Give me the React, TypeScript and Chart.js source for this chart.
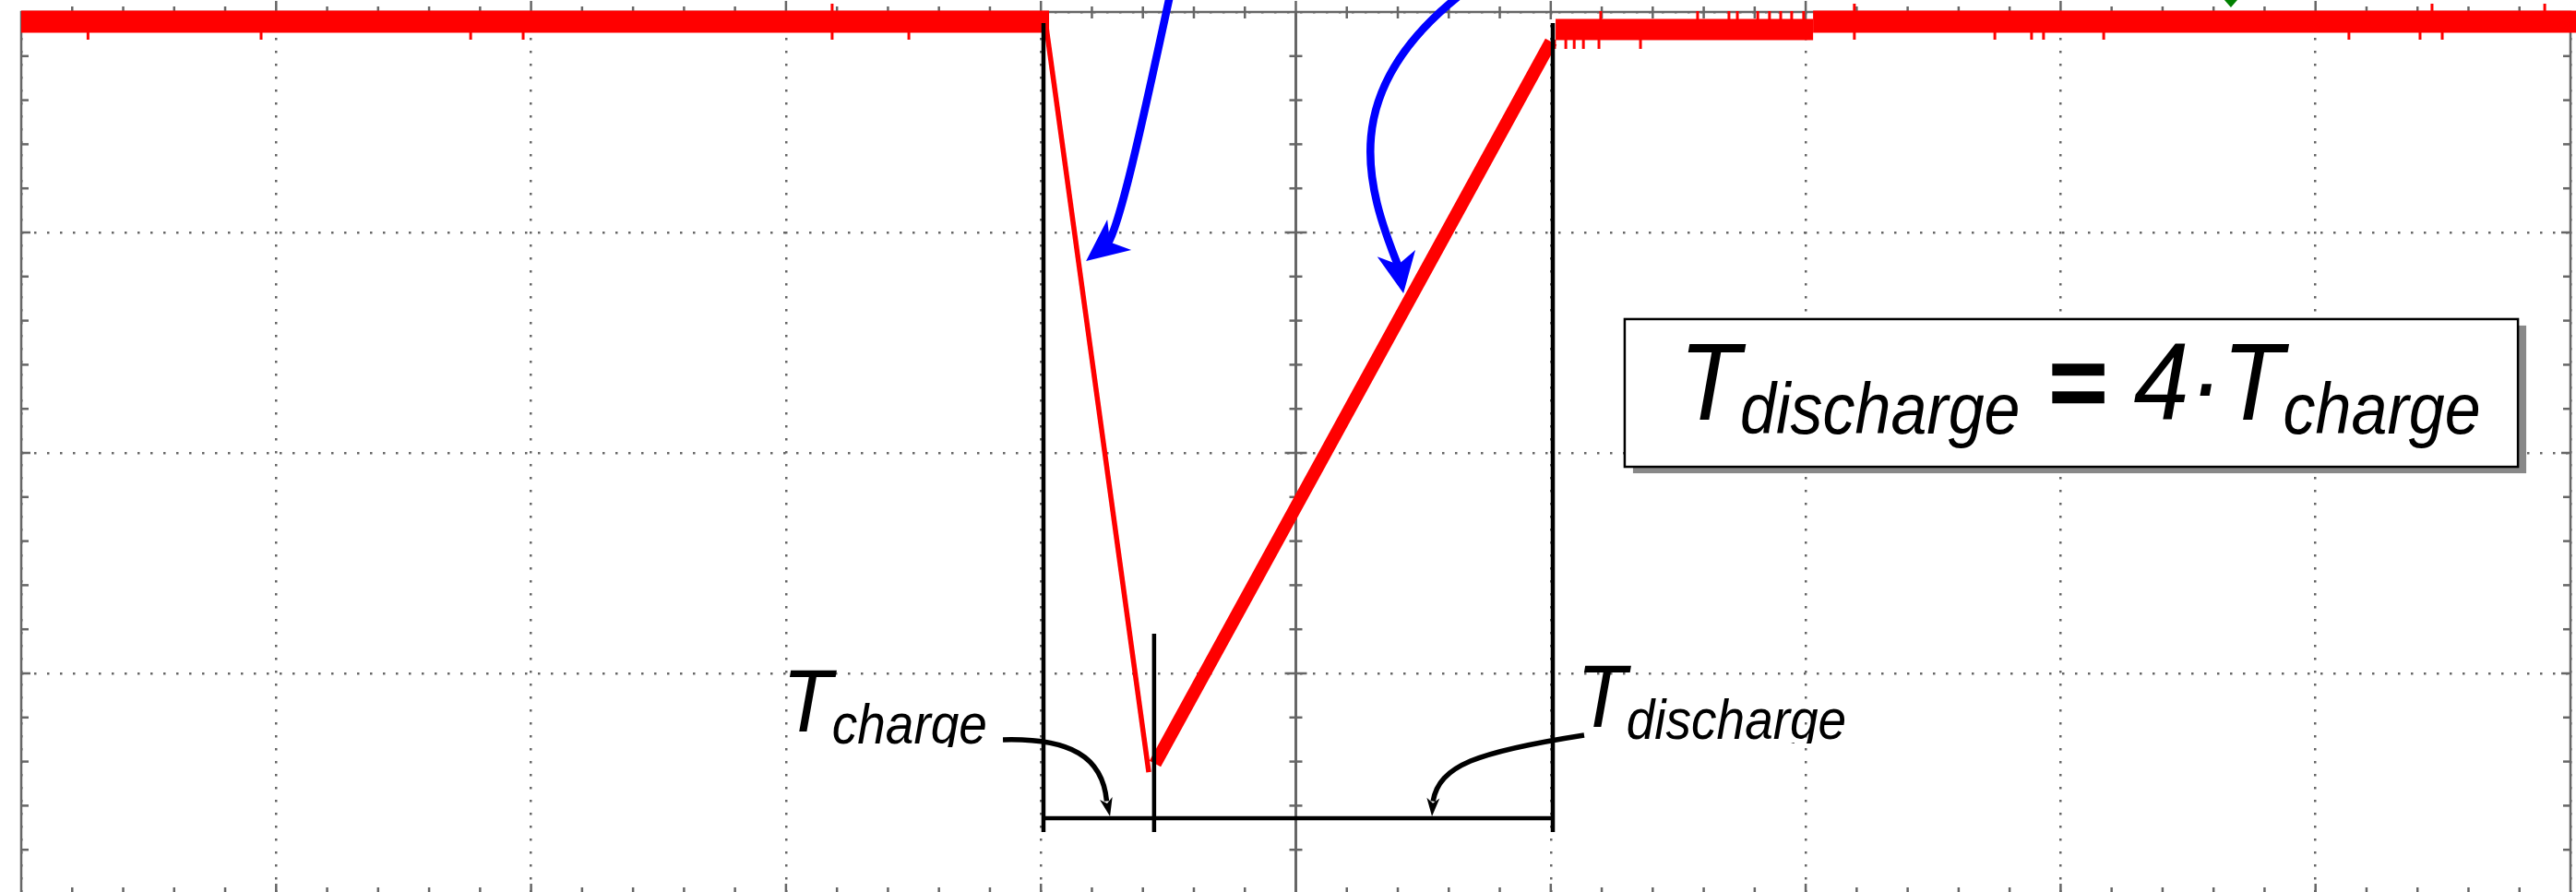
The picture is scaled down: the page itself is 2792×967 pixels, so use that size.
import { useEffect, useRef } from "react"
import { Chart, registerables } from "chart.js"

Chart.register(...registerables)

// scope screen, everything below is in divisions (10 x 4, 5 minor ticks per division)
const xDivisions = 10
const yDivisions = 4
const minorPerDiv = 5

// red trace
const highLeftX = [0, 4.032]
const highLeftY = [3.956, 3.956]
const fallX = [4.021, 4.423]
const fallY = [3.93, 0.552]
const riseX = [4.448, 6.001]
const riseY = [0.59, 3.866]
const highRightAX = [6.019, 7.029]
const highRightAY = [3.921, 3.921]
const highRightBX = [7.029, 10.03]
const highRightBY = [3.956, 3.956]

// glitches on the flat parts: x, from, to
const glitchX = [
  0.262, 0.941, 1.763, 1.969, 3.181, 3.482, 3.181,
  6.015, 6.059, 6.092, 6.128, 6.189, 6.352,
  6.196, 6.576, 6.699, 6.732, 6.812, 6.858, 6.902, 6.945, 6.992,
  7.191, 7.742, 7.886, 7.933, 8.169, 9.131, 9.41, 9.497,
  7.191, 9.457, 9.899,
]
const glitchFrom = [
  3.91, 3.91, 3.91, 3.91, 3.91, 3.91, 4.0,
  3.875, 3.875, 3.875, 3.875, 3.875, 3.875,
  3.965, 3.965, 3.965, 3.965, 3.965, 3.965, 3.965, 3.965, 3.965,
  3.908, 3.908, 3.908, 3.908, 3.908, 3.908, 3.908, 3.908,
  4.0, 4.0, 4.0,
]
const glitchTo = [
  3.874, 3.874, 3.874, 3.874, 3.874, 3.874, 4.038,
  3.833, 3.833, 3.833, 3.833, 3.833, 3.833,
  4.004, 4.004, 4.004, 4.004, 4.004, 4.004, 4.004, 4.004, 4.004,
  3.874, 3.874, 3.874, 3.874, 3.874, 3.874, 3.874, 3.874,
  4.038, 4.038, 4.038,
]

// cursors: start of charge, minimum, end of discharge
const cursorX = [4.01, 4.444, 6.008]
const cursorTop = [3.95, 1.18, 3.95]
const cursorBottom = 0.28
const spanY = 0.343

// annotations (cubic curves P0..P3 then arrow tip)
const chargeArrowX = [3.851, 4.115, 4.242, 4.258, 4.271]
const chargeArrowY = [0.699, 0.707, 0.623, 0.42, 0.351]
const dischargeArrowX = [6.131, 5.708, 5.563, 5.538, 5.534]
const dischargeArrowY = [0.72, 0.644, 0.582, 0.42, 0.351]
const fallArrowX = [4.506, 4.423, 4.314, 4.26, 4.177]
const fallArrowY = [4.075, 3.636, 3.029, 2.946, 2.87]
const riseArrowX = [5.642, 5.165, 5.273, 5.404, 5.422]
const riseArrowY = [4.075, 3.636, 3.218, 2.841, 2.724]

const chargeLabel = { x: 2.986, y: 0.736, clip: 0.665 }
const dischargeLabel = { x: 6.102, y: 0.757, clip: 0.682 }
const formulaBox = { x0: 6.29, x1: 9.794, y0: 2.607, y1: 1.937, tx: 6.504, ty: 2.151 }
const triggerX = 8.668

const RED = "#ff0000"
const GRID = "#666666"
const BLUE = "#0000ff"
const FONT = '"Liberation Sans", Arial, sans-serif'
const STRETCH = 1.1 // glyphs in the original are a bit taller than wide

const seg = (xs: number[], ys: number[]) => xs.map((x, i) => ({ x, y: ys[i] }))

const glitchData = () => {
  const out: { x: number, y: number | null }[] = []
  glitchX.forEach((x, i) => {
    out.push({ x, y: glitchFrom[i] }, { x, y: glitchTo[i] }, { x, y: null })
  })
  return out
}

const cursorData = () => {
  const out: { x: number, y: number | null }[] = []
  cursorX.forEach((x, i) => {
    out.push({ x, y: cursorTop[i] }, { x, y: cursorBottom }, { x, y: null })
  })
  out.push({ x: cursorX[0], y: spanY }, { x: cursorX[2], y: spanY })
  return out
}

const line = (ctx: CanvasRenderingContext2D, x1: number, y1: number, x2: number, y2: number) => {
  ctx.beginPath()
  ctx.moveTo(x1, y1)
  ctx.lineTo(x2, y2)
  ctx.stroke()
}

const frame = {
  id: "frame",
  beforeDatasetsDraw(chart: Chart) {
    const { ctx } = chart
    const X = (v: number) => chart.scales.x.getPixelForValue(v)
    const Y = (v: number) => chart.scales.y.getPixelForValue(v)
    ctx.save()
    ctx.strokeStyle = GRID
    ctx.lineWidth = 2.5
    ctx.strokeRect(X(0), Y(yDivisions), X(xDivisions) - X(0), Y(0) - Y(yDivisions))
    ctx.lineWidth = 3
    line(ctx, X(xDivisions / 2), Y(0), X(xDivisions / 2), Y(yDivisions))
    ctx.lineWidth = 2.5
    for (let k = 1; k < yDivisions * minorPerDiv; k++) {
      const y = Y(k / minorPerDiv)
      const major = k % minorPerDiv === 0
      line(ctx, X(0), y, X(0) + (major ? 10 : 8), y)
      line(ctx, X(xDivisions) - (major ? 10 : 8), y, X(xDivisions), y)
      const h = major ? 12 : 7
      line(ctx, X(xDivisions / 2) - h, y, X(xDivisions / 2) + h, y)
    }
    for (let k = 1; k < xDivisions * minorPerDiv; k++) {
      const x = X(k / minorPerDiv)
      const major = k % minorPerDiv === 0
      line(ctx, x, Y(yDivisions) - (major ? 12 : 6), x, Y(yDivisions) + (major ? 8 : 7))
      line(ctx, x, Y(0) - (major ? 11 : 7), x, Y(0))
    }
    ctx.restore()
  },
}

const notes = {
  id: "notes",
  afterDatasetsDraw(chart: Chart) {
    const { ctx } = chart
    const X = (v: number) => chart.scales.x.getPixelForValue(v)
    const Y = (v: number) => chart.scales.y.getPixelForValue(v)

    const arrow = (xs: number[], ys: number[], color: string, width: number, len: number, half: number) => {
      const p = xs.map((x, i) => ({ x: X(x), y: Y(ys[i]) }))
      ctx.strokeStyle = color
      ctx.fillStyle = color
      ctx.lineWidth = width
      ctx.lineCap = "butt"
      ctx.beginPath()
      ctx.moveTo(p[0].x, p[0].y)
      ctx.bezierCurveTo(p[1].x, p[1].y, p[2].x, p[2].y, p[3].x, p[3].y)
      ctx.stroke()
      const tip = p[4]
      let dx = tip.x - p[3].x
      let dy = tip.y - p[3].y
      const n = Math.hypot(dx, dy)
      dx /= n
      dy /= n
      const bx = tip.x - dx * len
      const by = tip.y - dy * len
      ctx.beginPath()
      ctx.moveTo(tip.x, tip.y)
      ctx.lineTo(bx - dy * half, by + dx * half)
      ctx.lineTo(tip.x - dx * len * 0.72, tip.y - dy * len * 0.72)
      ctx.lineTo(bx + dy * half, by - dx * half)
      ctx.closePath()
      ctx.fill()
    }

    // text drawn slightly stretched vertically about its baseline
    const text = (s: string, x: number, y: number, size: number, bold = 0) => {
      ctx.save()
      ctx.font = `italic ${size}px ${FONT}`
      ctx.translate(x, y)
      ctx.scale(1, STRETCH)
      ctx.fillText(s, 0, 0)
      if (bold) {
        ctx.lineWidth = bold
        ctx.strokeStyle = "#000"
        ctx.strokeText(s, 0, 0)
      }
      ctx.restore()
      ctx.font = `italic ${size}px ${FONT}`
      return ctx.measureText(s).width
    }

    const label = (x: number, y: number, sub: string, big: number, small: number, drop: number) => {
      const w = text("T", x, y, big)
      text(sub, x + w, y + drop, small)
    }

    ctx.save()
    arrow(chargeArrowX, chargeArrowY, "#000", 5.5, 20, 7)
    arrow(dischargeArrowX, dischargeArrowY, "#000", 5.5, 20, 7)

    ctx.fillStyle = "#000"
    ctx.textAlign = "left"
    ctx.textBaseline = "alphabetic"
    ctx.save()
    ctx.beginPath()
    ctx.rect(0, 0, chart.width, Y(chargeLabel.clip))
    ctx.clip()
    label(X(chargeLabel.x), Y(chargeLabel.y), "charge", 88, 55, 13)
    ctx.restore()
    ctx.save()
    ctx.beginPath()
    ctx.rect(0, 0, chart.width, Y(dischargeLabel.clip))
    ctx.clip()
    ctx.fillStyle = "#000"
    label(X(dischargeLabel.x), Y(dischargeLabel.y), "discharge", 88, 55, 13)
    ctx.restore()

    // formula box with drop shadow
    const bx0 = X(formulaBox.x0)
    const by0 = Y(formulaBox.y0)
    const bw = X(formulaBox.x1) - bx0
    const bh = Y(formulaBox.y1) - by0
    ctx.fillStyle = "#888888"
    ctx.fillRect(bx0 + 9, by0 + 7, bw, bh)
    ctx.fillStyle = "#ffffff"
    ctx.fillRect(bx0, by0, bw, bh)
    ctx.strokeStyle = "#000"
    ctx.lineWidth = 2.5
    ctx.strokeRect(bx0, by0, bw, bh)
    ctx.fillStyle = "#000"
    const parts: [string, number, number, number][] = [
      ["T", 108, 0, 0], ["discharge", 70, 15, 0], [" ", 108, 0, 0], ["=", 108, 0, 4],
      [" 4·T", 108, 0, 0], ["charge", 70, 15, 0],
    ]
    let tx = X(formulaBox.tx)
    const ty = Y(formulaBox.ty)
    parts.forEach(([s, size, drop, bold]) => {
      tx += text(s, tx, ty + drop, size, bold)
    })

    arrow(fallArrowX, fallArrowY, BLUE, 8.5, 46, 21)
    arrow(riseArrowX, riseArrowY, BLUE, 8.5, 44, 21)

    // trigger marker
    const gx = X(triggerX)
    ctx.fillStyle = "#008000"
    ctx.beginPath()
    ctx.moveTo(gx - 7, 0)
    ctx.lineTo(gx + 7, 0)
    ctx.lineTo(gx, 8)
    ctx.closePath()
    ctx.fill()
    ctx.restore()
  },
}

const base = {
  pointRadius: 0,
  pointHoverRadius: 0,
  tension: 0,
  fill: false,
  clip: false as const,
  borderCapStyle: "butt" as const,
  borderJoinStyle: "miter" as const,
}

const App = () => {
  const chartRef = useRef<HTMLCanvasElement>(null)

  useEffect(() => {
    if (!chartRef.current) return
    const c = new Chart(chartRef.current, {
      type: "line",
      data: {
        datasets: [
          { ...base, label: "cursors", data: cursorData(), borderColor: "#000", borderWidth: 4.5 },
          { ...base, label: "rise", data: seg(riseX, riseY), borderColor: RED, borderWidth: 14 },
          { ...base, label: "fall", data: seg(fallX, fallY), borderColor: RED, borderWidth: 5.5 },
          { ...base, label: "high left", data: seg(highLeftX, highLeftY), borderColor: RED, borderWidth: 24 },
          { ...base, label: "high right a", data: seg(highRightAX, highRightAY), borderColor: RED, borderWidth: 23 },
          { ...base, label: "high right b", data: seg(highRightBX, highRightBY), borderColor: RED, borderWidth: 24 },
          { ...base, label: "glitches", data: glitchData(), borderColor: RED, borderWidth: 3 },
        ],
      },
      options: {
        animation: false,
        responsive: true,
        maintainAspectRatio: false,
        events: [],
        layout: { padding: { left: 23, right: 6, top: 13, bottom: 3 } },
        plugins: { legend: { display: false }, tooltip: { enabled: false } },
        scales: {
          x: {
            type: "linear",
            min: 0,
            max: xDivisions,
            ticks: { display: false, stepSize: 1 },
            grid: { color: GRID, lineWidth: 2.5, drawTicks: false },
            border: { display: false, dash: [2.5, 11.5] },
            afterFit: (s: any) => { s.height = 0 },
          },
          y: {
            type: "linear",
            min: 0,
            max: yDivisions,
            ticks: { display: false, stepSize: 1 },
            grid: { color: GRID, lineWidth: 2.5, drawTicks: false },
            border: { display: false, dash: [2.5, 11.5] },
            afterFit: (s: any) => { s.width = 0 },
          },
        },
      },
      plugins: [frame, notes],
    })
    return () => {
      c.destroy()
    }
  }, [])

  return (
    <div style={{ position: "fixed", left: 0, top: 0, width: 2792, height: 972, background: "#fff" }}>
      <canvas ref={chartRef}></canvas>
    </div>
  )
}

export default App
